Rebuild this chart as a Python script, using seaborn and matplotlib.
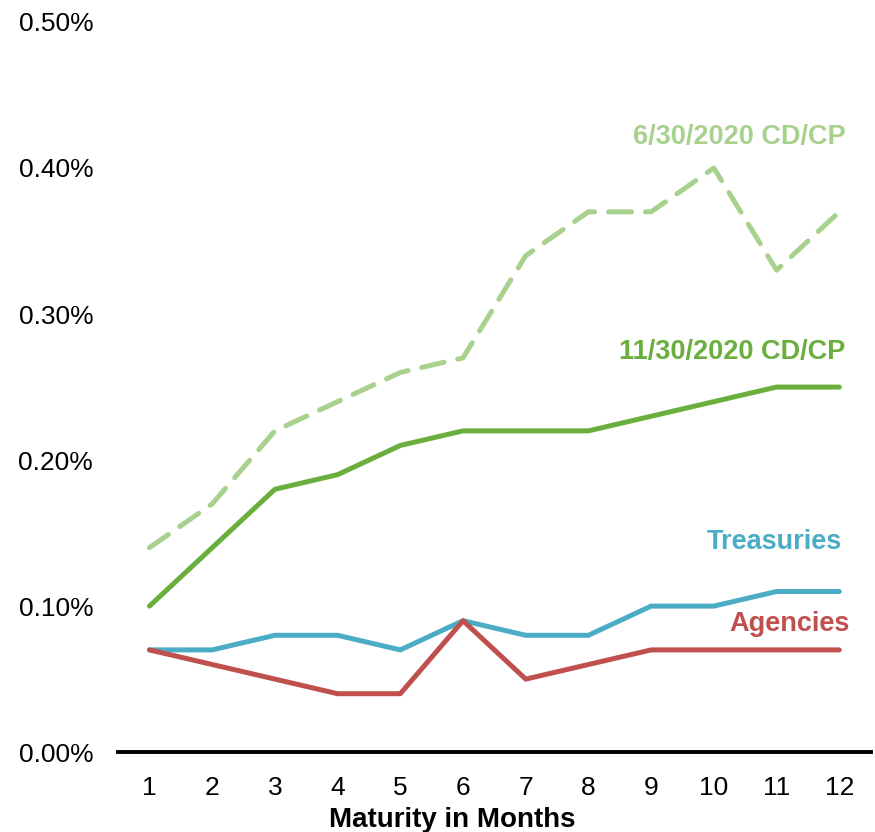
import matplotlib
matplotlib.use('Agg')
import matplotlib.pyplot as plt
import seaborn as sns
from matplotlib.ticker import FuncFormatter

# data (yields in percent)
months = list(range(1, 13))
cdcp_jun = [0.14, 0.17, 0.22, 0.24, 0.26, 0.27, 0.34, 0.37, 0.37, 0.40, 0.33, 0.37]
cdcp_nov = [0.10, 0.14, 0.18, 0.19, 0.21, 0.22, 0.22, 0.22, 0.23, 0.24, 0.25, 0.25]
treasuries = [0.07, 0.07, 0.08, 0.08, 0.07, 0.09, 0.08, 0.08, 0.10, 0.10, 0.11, 0.11]
agencies = [0.07, 0.06, 0.05, 0.04, 0.04, 0.09, 0.05, 0.06, 0.07, 0.07, 0.07, 0.07]

sns.set_style('white')
plt.rcParams['font.family'] = ['Liberation Sans', 'DejaVu Sans']

fig = plt.figure(figsize=(8.75, 8.32), dpi=100)
ax = fig.add_axes([0.135, 0.096, 0.86, 0.8776])

c_jun = '#A9D18E'
c_nov = '#6AAF3D'
c_tsy = '#4BACC6'
c_agy = '#C0504D'
lw = 3.6

sns.lineplot(x=months, y=cdcp_jun, ax=ax, color=c_jun, linewidth=lw)
ax.lines[-1].set_dashes([4.6, 2.8])
ax.lines[-1].set_dash_capstyle('round')
sns.lineplot(x=months, y=cdcp_nov, ax=ax, color=c_nov, linewidth=lw)
sns.lineplot(x=months, y=treasuries, ax=ax, color=c_tsy, linewidth=lw)
sns.lineplot(x=months, y=agencies, ax=ax, color=c_agy, linewidth=lw)

# series labels
lbl = dict(fontsize=19.5, fontweight='bold', ha='right', va='center')
ax.text(12.1, 0.421, '6/30/2020 CD/CP', color=c_jun, **lbl)
ax.text(12.1, 0.274, '11/30/2020 CD/CP', color=c_nov, **lbl)
ax.text(12.04, 0.144, 'Treasuries', color=c_tsy, **lbl)
ax.text(12.16, 0.088, 'Agencies', color=c_agy, **lbl)

ax.set_xlim(0.5, 12.5)
ax.set_ylim(0, 0.5)
ax.set_xticks(months)
ax.set_yticks([0, 0.1, 0.2, 0.3, 0.4, 0.5])
ax.yaxis.set_major_formatter(FuncFormatter(lambda v, p: f'{v:.2f}%'))
ax.tick_params(axis='both', labelsize=19, length=0, labelcolor='black')
ax.tick_params(axis='x', pad=17)
ax.tick_params(axis='y', pad=18)

ax.set_xlabel('Maturity in Months', fontsize=20, fontweight='bold', labelpad=5, color='black')
ax.xaxis.label.set_x(0.444)
ax.set_ylabel('')

for s in ['top', 'right', 'left']:
    ax.spines[s].set_visible(False)
ax.spines['bottom'].set_linewidth(2.8)
ax.spines['bottom'].set_color('black')

plt.savefig('out.png', dpi=100)
plt.close()
